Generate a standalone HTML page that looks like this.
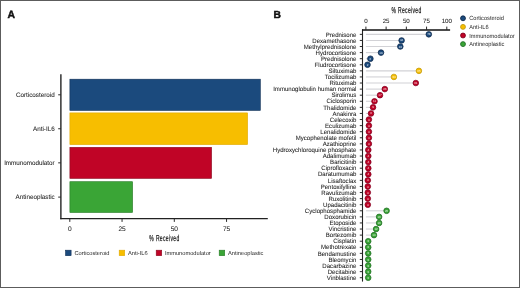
<!DOCTYPE html>
<html><head><meta charset="utf-8"><style>
svg text{stroke:#1c1c1c;stroke-width:0.06px;text-rendering:geometricPrecision;} svg text.n{stroke:none;} svg text.l{stroke:none;}
html,body{margin:0;padding:0;background:#fff;width:520px;height:288px;overflow:hidden;font-family:"Liberation Sans", sans-serif;}
</style></head><body>
<svg width="520" height="288" viewBox="0 0 520 288" style="display:block;will-change:transform">
<rect x="0" y="0" width="520" height="288" fill="#fff"/>
<rect x="0.5" y="0.5" width="519" height="287" fill="none" stroke="#5c5c5c" stroke-width="1"/>
<text x="7.6" y="18" font-family='"Liberation Sans", sans-serif' font-weight="bold" font-size="10.4" fill="#111" style="stroke:#111;stroke-width:0.45px">A</text>
<rect x="69.90" y="79.20" width="190.40" height="31.20" fill="#1b4a7d" stroke="#102f55" stroke-width="0.6"/>
<line x1="58.2" y1="94.80" x2="60.5" y2="94.80" stroke="#2a2a2a" stroke-width="1"/>
<text x="56.684" y="97.10" text-anchor="end" font-family='"Liberation Sans", sans-serif' font-size="6.5" fill="#1c1c1c" transform="scale(0.965 1)">Corticosteroid</text>
<rect x="69.90" y="112.90" width="177.70" height="31.70" fill="#f7be00" stroke="#e0a800" stroke-width="0.6"/>
<line x1="58.2" y1="128.75" x2="60.5" y2="128.75" stroke="#2a2a2a" stroke-width="1"/>
<text x="56.684" y="131.05" text-anchor="end" font-family='"Liberation Sans", sans-serif' font-size="6.5" fill="#1c1c1c" transform="scale(0.965 1)">Anti-IL6</text>
<rect x="69.90" y="147.30" width="141.70" height="31.10" fill="#c00426" stroke="#8a0a20" stroke-width="0.6"/>
<line x1="58.2" y1="162.85" x2="60.5" y2="162.85" stroke="#2a2a2a" stroke-width="1"/>
<text x="56.684" y="165.15" text-anchor="end" font-family='"Liberation Sans", sans-serif' font-size="6.5" fill="#1c1c1c" transform="scale(0.965 1)">Immunomodulator</text>
<rect x="69.90" y="181.70" width="62.70" height="30.80" fill="#3aa536" stroke="#267a26" stroke-width="0.6"/>
<line x1="58.2" y1="197.10" x2="60.5" y2="197.10" stroke="#2a2a2a" stroke-width="1"/>
<text x="56.684" y="199.40" text-anchor="end" font-family='"Liberation Sans", sans-serif' font-size="6.5" fill="#1c1c1c" transform="scale(0.965 1)">Antineoplastic</text>
<line x1="60.9" y1="74.2" x2="60.9" y2="219.2" stroke="#000" stroke-width="1.2"/>
<line x1="60.3" y1="218.7" x2="267.8" y2="218.7" stroke="#222" stroke-width="1.3"/>
<line x1="69.80" y1="218.5" x2="69.80" y2="221.9" stroke="#2a2a2a" stroke-width="1"/>
<text x="69.80" y="230.8" text-anchor="middle" font-family='"Liberation Sans", sans-serif' font-size="6.6" fill="#1c1c1c">0</text>
<line x1="122.05" y1="218.5" x2="122.05" y2="221.9" stroke="#2a2a2a" stroke-width="1"/>
<text x="122.05" y="230.8" text-anchor="middle" font-family='"Liberation Sans", sans-serif' font-size="6.6" fill="#1c1c1c">25</text>
<line x1="174.30" y1="218.5" x2="174.30" y2="221.9" stroke="#2a2a2a" stroke-width="1"/>
<text x="174.30" y="230.8" text-anchor="middle" font-family='"Liberation Sans", sans-serif' font-size="6.6" fill="#1c1c1c">50</text>
<line x1="226.55" y1="218.5" x2="226.55" y2="221.9" stroke="#2a2a2a" stroke-width="1"/>
<text x="226.55" y="230.8" text-anchor="middle" font-family='"Liberation Sans", sans-serif' font-size="6.6" fill="#1c1c1c">75</text>
<text x="164.55" y="241.3" text-anchor="middle" font-family='"Liberation Sans", sans-serif' font-size="8.6" letter-spacing="0.6" fill="#222" style="stroke-width:0.25px" transform="translate(164.3 0) scale(0.582 1) translate(-164.3 0)">% Received</text>
<rect x="65.60" y="250.2" width="5.5" height="5.5" fill="#1b4a7d" stroke="#102f55" stroke-width="0.6"/>
<text x="74.4" y="255.3" font-family='"Liberation Sans", sans-serif' font-size="5.7" fill="#262626" class="l">Corticosteroid</text>
<rect x="119.20" y="250.2" width="5.5" height="5.5" fill="#f7be00" stroke="#e0a800" stroke-width="0.6"/>
<text x="128.0" y="255.3" font-family='"Liberation Sans", sans-serif' font-size="5.7" fill="#262626" class="l">Anti-IL6</text>
<rect x="156.20" y="250.2" width="5.5" height="5.5" fill="#c00426" stroke="#8a0a20" stroke-width="0.6"/>
<text x="164.9" y="255.3" font-family='"Liberation Sans", sans-serif' font-size="5.7" fill="#262626" class="l">Immunomodulator</text>
<rect x="219.20" y="250.2" width="5.5" height="5.5" fill="#3aa536" stroke="#267a26" stroke-width="0.6"/>
<text x="228.0" y="255.3" font-family='"Liberation Sans", sans-serif' font-size="5.7" fill="#262626" class="l">Antineoplastic</text>
<text x="273.5" y="18.3" font-family='"Liberation Sans", sans-serif' font-weight="bold" font-size="10.3" fill="#111" style="stroke:#111;stroke-width:0.45px">B</text>
<line x1="359.8" y1="34.35" x2="362.5" y2="34.35" stroke="#2a2a2a" stroke-width="1"/>
<text x="367.423" y="36.55" text-anchor="end" font-family='"Liberation Sans", sans-serif' font-size="6.25" fill="#1c1c1c" transform="scale(0.97 1)">Prednisone</text>
<line x1="365.9" y1="34.35" x2="428.80" y2="34.35" stroke="#d2d2d6" stroke-width="1.1"/>
<line x1="359.8" y1="40.43" x2="362.5" y2="40.43" stroke="#2a2a2a" stroke-width="1"/>
<text x="367.423" y="42.63" text-anchor="end" font-family='"Liberation Sans", sans-serif' font-size="6.25" fill="#1c1c1c" transform="scale(0.97 1)">Dexamethasone</text>
<line x1="365.9" y1="40.43" x2="401.60" y2="40.43" stroke="#d2d2d6" stroke-width="1.1"/>
<line x1="359.8" y1="46.52" x2="362.5" y2="46.52" stroke="#2a2a2a" stroke-width="1"/>
<text x="367.423" y="48.72" text-anchor="end" font-family='"Liberation Sans", sans-serif' font-size="6.25" fill="#1c1c1c" transform="scale(0.97 1)">Methylprednisolone</text>
<line x1="365.9" y1="46.52" x2="400.30" y2="46.52" stroke="#d2d2d6" stroke-width="1.1"/>
<line x1="359.8" y1="52.60" x2="362.5" y2="52.60" stroke="#2a2a2a" stroke-width="1"/>
<text x="367.423" y="54.80" text-anchor="end" font-family='"Liberation Sans", sans-serif' font-size="6.25" fill="#1c1c1c" transform="scale(0.97 1)">Hydrocortisone</text>
<line x1="365.9" y1="52.60" x2="381.00" y2="52.60" stroke="#d2d2d6" stroke-width="1.1"/>
<line x1="359.8" y1="58.69" x2="362.5" y2="58.69" stroke="#2a2a2a" stroke-width="1"/>
<text x="367.423" y="60.89" text-anchor="end" font-family='"Liberation Sans", sans-serif' font-size="6.25" fill="#1c1c1c" transform="scale(0.97 1)">Prednisolone</text>
<line x1="365.9" y1="58.69" x2="370.40" y2="58.69" stroke="#d2d2d6" stroke-width="1.1"/>
<line x1="359.8" y1="64.77" x2="362.5" y2="64.77" stroke="#2a2a2a" stroke-width="1"/>
<text x="367.423" y="66.97" text-anchor="end" font-family='"Liberation Sans", sans-serif' font-size="6.25" fill="#1c1c1c" transform="scale(0.97 1)">Fludrocortisone</text>
<line x1="365.9" y1="64.77" x2="367.50" y2="64.77" stroke="#d2d2d6" stroke-width="1.1"/>
<line x1="359.8" y1="70.85" x2="362.5" y2="70.85" stroke="#2a2a2a" stroke-width="1"/>
<text x="367.423" y="73.05" text-anchor="end" font-family='"Liberation Sans", sans-serif' font-size="6.25" fill="#1c1c1c" transform="scale(0.97 1)">Siltuximab</text>
<line x1="365.9" y1="70.85" x2="418.90" y2="70.85" stroke="#d2d2d6" stroke-width="1.1"/>
<line x1="359.8" y1="76.94" x2="362.5" y2="76.94" stroke="#2a2a2a" stroke-width="1"/>
<text x="367.423" y="79.14" text-anchor="end" font-family='"Liberation Sans", sans-serif' font-size="6.25" fill="#1c1c1c" transform="scale(0.97 1)">Tocilizumab</text>
<line x1="365.9" y1="76.94" x2="393.90" y2="76.94" stroke="#d2d2d6" stroke-width="1.1"/>
<line x1="359.8" y1="83.02" x2="362.5" y2="83.02" stroke="#2a2a2a" stroke-width="1"/>
<text x="367.423" y="85.22" text-anchor="end" font-family='"Liberation Sans", sans-serif' font-size="6.25" fill="#1c1c1c" transform="scale(0.97 1)">Rituximab</text>
<line x1="365.9" y1="83.02" x2="415.80" y2="83.02" stroke="#d2d2d6" stroke-width="1.1"/>
<line x1="359.8" y1="89.11" x2="362.5" y2="89.11" stroke="#2a2a2a" stroke-width="1"/>
<text x="367.423" y="91.31" text-anchor="end" font-family='"Liberation Sans", sans-serif' font-size="6.25" fill="#1c1c1c" transform="scale(0.97 1)">Immunoglobulin human normal</text>
<line x1="365.9" y1="89.11" x2="384.80" y2="89.11" stroke="#d2d2d6" stroke-width="1.1"/>
<line x1="359.8" y1="95.19" x2="362.5" y2="95.19" stroke="#2a2a2a" stroke-width="1"/>
<text x="367.423" y="97.39" text-anchor="end" font-family='"Liberation Sans", sans-serif' font-size="6.25" fill="#1c1c1c" transform="scale(0.97 1)">Sirolimus</text>
<line x1="365.9" y1="95.19" x2="380.00" y2="95.19" stroke="#d2d2d6" stroke-width="1.1"/>
<line x1="359.8" y1="101.27" x2="362.5" y2="101.27" stroke="#2a2a2a" stroke-width="1"/>
<text x="367.423" y="103.47" text-anchor="end" font-family='"Liberation Sans", sans-serif' font-size="6.25" fill="#1c1c1c" transform="scale(0.97 1)">Ciclosporin</text>
<line x1="365.9" y1="101.27" x2="374.50" y2="101.27" stroke="#d2d2d6" stroke-width="1.1"/>
<line x1="359.8" y1="107.36" x2="362.5" y2="107.36" stroke="#2a2a2a" stroke-width="1"/>
<text x="367.423" y="109.56" text-anchor="end" font-family='"Liberation Sans", sans-serif' font-size="6.25" fill="#1c1c1c" transform="scale(0.97 1)">Thalidomide</text>
<line x1="365.9" y1="107.36" x2="373.00" y2="107.36" stroke="#d2d2d6" stroke-width="1.1"/>
<line x1="359.8" y1="113.44" x2="362.5" y2="113.44" stroke="#2a2a2a" stroke-width="1"/>
<text x="367.423" y="115.64" text-anchor="end" font-family='"Liberation Sans", sans-serif' font-size="6.25" fill="#1c1c1c" transform="scale(0.97 1)">Anakinra</text>
<line x1="365.9" y1="113.44" x2="371.00" y2="113.44" stroke="#d2d2d6" stroke-width="1.1"/>
<line x1="359.8" y1="119.53" x2="362.5" y2="119.53" stroke="#2a2a2a" stroke-width="1"/>
<text x="367.423" y="121.73" text-anchor="end" font-family='"Liberation Sans", sans-serif' font-size="6.25" fill="#1c1c1c" transform="scale(0.97 1)">Celecoxib</text>
<line x1="365.9" y1="119.53" x2="368.90" y2="119.53" stroke="#d2d2d6" stroke-width="1.1"/>
<line x1="359.8" y1="125.61" x2="362.5" y2="125.61" stroke="#2a2a2a" stroke-width="1"/>
<text x="367.423" y="127.81" text-anchor="end" font-family='"Liberation Sans", sans-serif' font-size="6.25" fill="#1c1c1c" transform="scale(0.97 1)">Eculizumab</text>
<line x1="365.9" y1="125.61" x2="368.90" y2="125.61" stroke="#d2d2d6" stroke-width="1.1"/>
<line x1="359.8" y1="131.69" x2="362.5" y2="131.69" stroke="#2a2a2a" stroke-width="1"/>
<text x="367.423" y="133.89" text-anchor="end" font-family='"Liberation Sans", sans-serif' font-size="6.25" fill="#1c1c1c" transform="scale(0.97 1)">Lenalidomide</text>
<line x1="365.9" y1="131.69" x2="368.90" y2="131.69" stroke="#d2d2d6" stroke-width="1.1"/>
<line x1="359.8" y1="137.78" x2="362.5" y2="137.78" stroke="#2a2a2a" stroke-width="1"/>
<text x="367.423" y="139.98" text-anchor="end" font-family='"Liberation Sans", sans-serif' font-size="6.25" fill="#1c1c1c" transform="scale(0.97 1)">Mycophenolate mofetil</text>
<line x1="365.9" y1="137.78" x2="368.90" y2="137.78" stroke="#d2d2d6" stroke-width="1.1"/>
<line x1="359.8" y1="143.86" x2="362.5" y2="143.86" stroke="#2a2a2a" stroke-width="1"/>
<text x="367.423" y="146.06" text-anchor="end" font-family='"Liberation Sans", sans-serif' font-size="6.25" fill="#1c1c1c" transform="scale(0.97 1)">Azathioprine</text>
<line x1="365.9" y1="143.86" x2="368.90" y2="143.86" stroke="#d2d2d6" stroke-width="1.1"/>
<line x1="359.8" y1="149.95" x2="362.5" y2="149.95" stroke="#2a2a2a" stroke-width="1"/>
<text x="367.423" y="152.15" text-anchor="end" font-family='"Liberation Sans", sans-serif' font-size="6.25" fill="#1c1c1c" transform="scale(0.97 1)">Hydroxychloroquine phosphate</text>
<line x1="365.9" y1="149.95" x2="368.30" y2="149.95" stroke="#d2d2d6" stroke-width="1.1"/>
<line x1="359.8" y1="156.03" x2="362.5" y2="156.03" stroke="#2a2a2a" stroke-width="1"/>
<text x="367.423" y="158.23" text-anchor="end" font-family='"Liberation Sans", sans-serif' font-size="6.25" fill="#1c1c1c" transform="scale(0.97 1)">Adalimumab</text>
<line x1="365.9" y1="156.03" x2="368.30" y2="156.03" stroke="#d2d2d6" stroke-width="1.1"/>
<line x1="359.8" y1="162.11" x2="362.5" y2="162.11" stroke="#2a2a2a" stroke-width="1"/>
<text x="367.423" y="164.31" text-anchor="end" font-family='"Liberation Sans", sans-serif' font-size="6.25" fill="#1c1c1c" transform="scale(0.97 1)">Baricitinib</text>
<line x1="365.9" y1="162.11" x2="368.30" y2="162.11" stroke="#d2d2d6" stroke-width="1.1"/>
<line x1="359.8" y1="168.20" x2="362.5" y2="168.20" stroke="#2a2a2a" stroke-width="1"/>
<text x="367.423" y="170.40" text-anchor="end" font-family='"Liberation Sans", sans-serif' font-size="6.25" fill="#1c1c1c" transform="scale(0.97 1)">Ciprofloxacin</text>
<line x1="365.9" y1="168.20" x2="368.30" y2="168.20" stroke="#d2d2d6" stroke-width="1.1"/>
<line x1="359.8" y1="174.28" x2="362.5" y2="174.28" stroke="#2a2a2a" stroke-width="1"/>
<text x="367.423" y="176.48" text-anchor="end" font-family='"Liberation Sans", sans-serif' font-size="6.25" fill="#1c1c1c" transform="scale(0.97 1)">Daratumumab</text>
<line x1="365.9" y1="174.28" x2="368.30" y2="174.28" stroke="#d2d2d6" stroke-width="1.1"/>
<line x1="359.8" y1="180.37" x2="362.5" y2="180.37" stroke="#2a2a2a" stroke-width="1"/>
<text x="367.423" y="182.57" text-anchor="end" font-family='"Liberation Sans", sans-serif' font-size="6.25" fill="#1c1c1c" transform="scale(0.97 1)">Lisaftoclax</text>
<line x1="365.9" y1="180.37" x2="367.80" y2="180.37" stroke="#d2d2d6" stroke-width="1.1"/>
<line x1="359.8" y1="186.45" x2="362.5" y2="186.45" stroke="#2a2a2a" stroke-width="1"/>
<text x="367.423" y="188.65" text-anchor="end" font-family='"Liberation Sans", sans-serif' font-size="6.25" fill="#1c1c1c" transform="scale(0.97 1)">Pentoxifylline</text>
<line x1="365.9" y1="186.45" x2="367.80" y2="186.45" stroke="#d2d2d6" stroke-width="1.1"/>
<line x1="359.8" y1="192.53" x2="362.5" y2="192.53" stroke="#2a2a2a" stroke-width="1"/>
<text x="367.423" y="194.73" text-anchor="end" font-family='"Liberation Sans", sans-serif' font-size="6.25" fill="#1c1c1c" transform="scale(0.97 1)">Ravulizumab</text>
<line x1="365.9" y1="192.53" x2="367.80" y2="192.53" stroke="#d2d2d6" stroke-width="1.1"/>
<line x1="359.8" y1="198.62" x2="362.5" y2="198.62" stroke="#2a2a2a" stroke-width="1"/>
<text x="367.423" y="200.82" text-anchor="end" font-family='"Liberation Sans", sans-serif' font-size="6.25" fill="#1c1c1c" transform="scale(0.97 1)">Ruxolitinib</text>
<line x1="365.9" y1="198.62" x2="367.80" y2="198.62" stroke="#d2d2d6" stroke-width="1.1"/>
<line x1="359.8" y1="204.70" x2="362.5" y2="204.70" stroke="#2a2a2a" stroke-width="1"/>
<text x="367.423" y="206.90" text-anchor="end" font-family='"Liberation Sans", sans-serif' font-size="6.25" fill="#1c1c1c" transform="scale(0.97 1)">Upadacitinib</text>
<line x1="365.9" y1="204.70" x2="367.80" y2="204.70" stroke="#d2d2d6" stroke-width="1.1"/>
<line x1="359.8" y1="210.79" x2="362.5" y2="210.79" stroke="#2a2a2a" stroke-width="1"/>
<text x="367.423" y="212.99" text-anchor="end" font-family='"Liberation Sans", sans-serif' font-size="6.25" fill="#1c1c1c" transform="scale(0.97 1)">Cyclophosphamide</text>
<line x1="365.9" y1="210.79" x2="386.60" y2="210.79" stroke="#d2d2d6" stroke-width="1.1"/>
<line x1="359.8" y1="216.87" x2="362.5" y2="216.87" stroke="#2a2a2a" stroke-width="1"/>
<text x="367.423" y="219.07" text-anchor="end" font-family='"Liberation Sans", sans-serif' font-size="6.25" fill="#1c1c1c" transform="scale(0.97 1)">Doxorubicin</text>
<line x1="365.9" y1="216.87" x2="379.10" y2="216.87" stroke="#d2d2d6" stroke-width="1.1"/>
<line x1="359.8" y1="222.95" x2="362.5" y2="222.95" stroke="#2a2a2a" stroke-width="1"/>
<text x="367.423" y="225.15" text-anchor="end" font-family='"Liberation Sans", sans-serif' font-size="6.25" fill="#1c1c1c" transform="scale(0.97 1)">Etoposide</text>
<line x1="365.9" y1="222.95" x2="379.10" y2="222.95" stroke="#d2d2d6" stroke-width="1.1"/>
<line x1="359.8" y1="229.04" x2="362.5" y2="229.04" stroke="#2a2a2a" stroke-width="1"/>
<text x="367.423" y="231.24" text-anchor="end" font-family='"Liberation Sans", sans-serif' font-size="6.25" fill="#1c1c1c" transform="scale(0.97 1)">Vincristine</text>
<line x1="365.9" y1="229.04" x2="376.10" y2="229.04" stroke="#d2d2d6" stroke-width="1.1"/>
<line x1="359.8" y1="235.12" x2="362.5" y2="235.12" stroke="#2a2a2a" stroke-width="1"/>
<text x="367.423" y="237.32" text-anchor="end" font-family='"Liberation Sans", sans-serif' font-size="6.25" fill="#1c1c1c" transform="scale(0.97 1)">Bortezomib</text>
<line x1="365.9" y1="235.12" x2="374.00" y2="235.12" stroke="#d2d2d6" stroke-width="1.1"/>
<line x1="359.8" y1="241.21" x2="362.5" y2="241.21" stroke="#2a2a2a" stroke-width="1"/>
<text x="367.423" y="243.41" text-anchor="end" font-family='"Liberation Sans", sans-serif' font-size="6.25" fill="#1c1c1c" transform="scale(0.97 1)">Cisplatin</text>
<line x1="365.9" y1="241.21" x2="368.20" y2="241.21" stroke="#d2d2d6" stroke-width="1.1"/>
<line x1="359.8" y1="247.29" x2="362.5" y2="247.29" stroke="#2a2a2a" stroke-width="1"/>
<text x="367.423" y="249.49" text-anchor="end" font-family='"Liberation Sans", sans-serif' font-size="6.25" fill="#1c1c1c" transform="scale(0.97 1)">Methotrexate</text>
<line x1="365.9" y1="247.29" x2="368.20" y2="247.29" stroke="#d2d2d6" stroke-width="1.1"/>
<line x1="359.8" y1="253.37" x2="362.5" y2="253.37" stroke="#2a2a2a" stroke-width="1"/>
<text x="367.423" y="255.57" text-anchor="end" font-family='"Liberation Sans", sans-serif' font-size="6.25" fill="#1c1c1c" transform="scale(0.97 1)">Bendamustine</text>
<line x1="365.9" y1="253.37" x2="368.20" y2="253.37" stroke="#d2d2d6" stroke-width="1.1"/>
<line x1="359.8" y1="259.46" x2="362.5" y2="259.46" stroke="#2a2a2a" stroke-width="1"/>
<text x="367.423" y="261.66" text-anchor="end" font-family='"Liberation Sans", sans-serif' font-size="6.25" fill="#1c1c1c" transform="scale(0.97 1)">Bleomycin</text>
<line x1="365.9" y1="259.46" x2="368.20" y2="259.46" stroke="#d2d2d6" stroke-width="1.1"/>
<line x1="359.8" y1="265.54" x2="362.5" y2="265.54" stroke="#2a2a2a" stroke-width="1"/>
<text x="367.423" y="267.74" text-anchor="end" font-family='"Liberation Sans", sans-serif' font-size="6.25" fill="#1c1c1c" transform="scale(0.97 1)">Dacarbazine</text>
<line x1="365.9" y1="265.54" x2="368.20" y2="265.54" stroke="#d2d2d6" stroke-width="1.1"/>
<line x1="359.8" y1="271.63" x2="362.5" y2="271.63" stroke="#2a2a2a" stroke-width="1"/>
<text x="367.423" y="273.83" text-anchor="end" font-family='"Liberation Sans", sans-serif' font-size="6.25" fill="#1c1c1c" transform="scale(0.97 1)">Decitabine</text>
<line x1="365.9" y1="271.63" x2="368.20" y2="271.63" stroke="#d2d2d6" stroke-width="1.1"/>
<line x1="359.8" y1="277.71" x2="362.5" y2="277.71" stroke="#2a2a2a" stroke-width="1"/>
<text x="367.423" y="279.91" text-anchor="end" font-family='"Liberation Sans", sans-serif' font-size="6.25" fill="#1c1c1c" transform="scale(0.97 1)">Vinblastine</text>
<line x1="365.9" y1="277.71" x2="368.20" y2="277.71" stroke="#d2d2d6" stroke-width="1.1"/>
<circle cx="428.80" cy="34.35" r="2.8" fill="#1b4a7d" stroke="#0e2748" stroke-width="0.75"/>
<text x="428.80" y="35.40" text-anchor="middle" font-family='"Liberation Sans", sans-serif' font-size="3.0" fill="#fff" fill-opacity="0.85" class="n">78</text>
<circle cx="401.60" cy="40.43" r="2.8" fill="#1b4a7d" stroke="#0e2748" stroke-width="0.75"/>
<text x="401.60" y="41.48" text-anchor="middle" font-family='"Liberation Sans", sans-serif' font-size="3.0" fill="#fff" fill-opacity="0.85" class="n">44</text>
<circle cx="400.30" cy="46.52" r="2.8" fill="#1b4a7d" stroke="#0e2748" stroke-width="0.75"/>
<text x="400.30" y="47.57" text-anchor="middle" font-family='"Liberation Sans", sans-serif' font-size="3.0" fill="#fff" fill-opacity="0.85" class="n">43</text>
<circle cx="381.00" cy="52.60" r="2.8" fill="#1b4a7d" stroke="#0e2748" stroke-width="0.75"/>
<text x="381.00" y="53.65" text-anchor="middle" font-family='"Liberation Sans", sans-serif' font-size="3.0" fill="#fff" fill-opacity="0.85" class="n">19</text>
<circle cx="370.40" cy="58.69" r="2.8" fill="#1b4a7d" stroke="#0e2748" stroke-width="0.75"/>
<text x="370.40" y="59.74" text-anchor="middle" font-family='"Liberation Sans", sans-serif' font-size="3.0" fill="#fff" fill-opacity="0.85" class="n">6</text>
<circle cx="367.50" cy="64.77" r="2.8" fill="#1b4a7d" stroke="#0e2748" stroke-width="0.75"/>
<text x="367.50" y="65.82" text-anchor="middle" font-family='"Liberation Sans", sans-serif' font-size="3.0" fill="#fff" fill-opacity="0.85" class="n">2</text>
<circle cx="418.90" cy="70.85" r="2.8" fill="#f7be00" stroke="#c09a10" stroke-width="0.75"/>
<text x="418.90" y="71.90" text-anchor="middle" font-family='"Liberation Sans", sans-serif' font-size="3.0" fill="#fff" fill-opacity="0.85" class="n">65</text>
<circle cx="393.90" cy="76.94" r="2.8" fill="#f7be00" stroke="#c09a10" stroke-width="0.75"/>
<text x="393.90" y="77.99" text-anchor="middle" font-family='"Liberation Sans", sans-serif' font-size="3.0" fill="#fff" fill-opacity="0.85" class="n">34</text>
<circle cx="415.80" cy="83.02" r="2.8" fill="#c00426" stroke="#800020" stroke-width="0.75"/>
<text x="415.80" y="84.07" text-anchor="middle" font-family='"Liberation Sans", sans-serif' font-size="3.0" fill="#fff" fill-opacity="0.85" class="n">61</text>
<circle cx="384.80" cy="89.11" r="2.8" fill="#c00426" stroke="#800020" stroke-width="0.75"/>
<text x="384.80" y="90.16" text-anchor="middle" font-family='"Liberation Sans", sans-serif' font-size="3.0" fill="#fff" fill-opacity="0.85" class="n">23</text>
<circle cx="380.00" cy="95.19" r="2.8" fill="#c00426" stroke="#800020" stroke-width="0.75"/>
<text x="380.00" y="96.24" text-anchor="middle" font-family='"Liberation Sans", sans-serif' font-size="3.0" fill="#fff" fill-opacity="0.85" class="n">17</text>
<circle cx="374.50" cy="101.27" r="2.8" fill="#c00426" stroke="#800020" stroke-width="0.75"/>
<text x="374.50" y="102.32" text-anchor="middle" font-family='"Liberation Sans", sans-serif' font-size="3.0" fill="#fff" fill-opacity="0.85" class="n">11</text>
<circle cx="373.00" cy="107.36" r="2.8" fill="#c00426" stroke="#800020" stroke-width="0.75"/>
<text x="373.00" y="108.41" text-anchor="middle" font-family='"Liberation Sans", sans-serif' font-size="3.0" fill="#fff" fill-opacity="0.85" class="n">9</text>
<circle cx="371.00" cy="113.44" r="2.8" fill="#c00426" stroke="#800020" stroke-width="0.75"/>
<text x="371.00" y="114.49" text-anchor="middle" font-family='"Liberation Sans", sans-serif' font-size="3.0" fill="#fff" fill-opacity="0.85" class="n">6</text>
<circle cx="368.90" cy="119.53" r="2.8" fill="#c00426" stroke="#800020" stroke-width="0.75"/>
<text x="368.90" y="120.58" text-anchor="middle" font-family='"Liberation Sans", sans-serif' font-size="3.0" fill="#fff" fill-opacity="0.85" class="n">4</text>
<circle cx="368.90" cy="125.61" r="2.8" fill="#c00426" stroke="#800020" stroke-width="0.75"/>
<text x="368.90" y="126.66" text-anchor="middle" font-family='"Liberation Sans", sans-serif' font-size="3.0" fill="#fff" fill-opacity="0.85" class="n">4</text>
<circle cx="368.90" cy="131.69" r="2.8" fill="#c00426" stroke="#800020" stroke-width="0.75"/>
<text x="368.90" y="132.74" text-anchor="middle" font-family='"Liberation Sans", sans-serif' font-size="3.0" fill="#fff" fill-opacity="0.85" class="n">4</text>
<circle cx="368.90" cy="137.78" r="2.8" fill="#c00426" stroke="#800020" stroke-width="0.75"/>
<text x="368.90" y="138.83" text-anchor="middle" font-family='"Liberation Sans", sans-serif' font-size="3.0" fill="#fff" fill-opacity="0.85" class="n">4</text>
<circle cx="368.90" cy="143.86" r="2.8" fill="#c00426" stroke="#800020" stroke-width="0.75"/>
<text x="368.90" y="144.91" text-anchor="middle" font-family='"Liberation Sans", sans-serif' font-size="3.0" fill="#fff" fill-opacity="0.85" class="n">4</text>
<circle cx="368.30" cy="149.95" r="2.8" fill="#c00426" stroke="#800020" stroke-width="0.75"/>
<text x="368.30" y="151.00" text-anchor="middle" font-family='"Liberation Sans", sans-serif' font-size="3.0" fill="#fff" fill-opacity="0.85" class="n">4</text>
<circle cx="368.30" cy="156.03" r="2.8" fill="#c00426" stroke="#800020" stroke-width="0.75"/>
<text x="368.30" y="157.08" text-anchor="middle" font-family='"Liberation Sans", sans-serif' font-size="3.0" fill="#fff" fill-opacity="0.85" class="n">4</text>
<circle cx="368.30" cy="162.11" r="2.8" fill="#c00426" stroke="#800020" stroke-width="0.75"/>
<text x="368.30" y="163.16" text-anchor="middle" font-family='"Liberation Sans", sans-serif' font-size="3.0" fill="#fff" fill-opacity="0.85" class="n">4</text>
<circle cx="368.30" cy="168.20" r="2.8" fill="#c00426" stroke="#800020" stroke-width="0.75"/>
<text x="368.30" y="169.25" text-anchor="middle" font-family='"Liberation Sans", sans-serif' font-size="3.0" fill="#fff" fill-opacity="0.85" class="n">4</text>
<circle cx="368.30" cy="174.28" r="2.8" fill="#c00426" stroke="#800020" stroke-width="0.75"/>
<text x="368.30" y="175.33" text-anchor="middle" font-family='"Liberation Sans", sans-serif' font-size="3.0" fill="#fff" fill-opacity="0.85" class="n">4</text>
<circle cx="367.80" cy="180.37" r="2.8" fill="#c00426" stroke="#800020" stroke-width="0.75"/>
<text x="367.80" y="181.42" text-anchor="middle" font-family='"Liberation Sans", sans-serif' font-size="3.0" fill="#fff" fill-opacity="0.85" class="n">4</text>
<circle cx="367.80" cy="186.45" r="2.8" fill="#c00426" stroke="#800020" stroke-width="0.75"/>
<text x="367.80" y="187.50" text-anchor="middle" font-family='"Liberation Sans", sans-serif' font-size="3.0" fill="#fff" fill-opacity="0.85" class="n">4</text>
<circle cx="367.80" cy="192.53" r="2.8" fill="#c00426" stroke="#800020" stroke-width="0.75"/>
<text x="367.80" y="193.58" text-anchor="middle" font-family='"Liberation Sans", sans-serif' font-size="3.0" fill="#fff" fill-opacity="0.85" class="n">4</text>
<circle cx="367.80" cy="198.62" r="2.8" fill="#c00426" stroke="#800020" stroke-width="0.75"/>
<text x="367.80" y="199.67" text-anchor="middle" font-family='"Liberation Sans", sans-serif' font-size="3.0" fill="#fff" fill-opacity="0.85" class="n">4</text>
<circle cx="367.80" cy="204.70" r="2.8" fill="#c00426" stroke="#800020" stroke-width="0.75"/>
<text x="367.80" y="205.75" text-anchor="middle" font-family='"Liberation Sans", sans-serif' font-size="3.0" fill="#fff" fill-opacity="0.85" class="n">4</text>
<circle cx="386.60" cy="210.79" r="2.8" fill="#3aa536" stroke="#1d6b22" stroke-width="0.75"/>
<text x="386.60" y="211.84" text-anchor="middle" font-family='"Liberation Sans", sans-serif' font-size="3.0" fill="#fff" fill-opacity="0.85" class="n">25</text>
<circle cx="379.10" cy="216.87" r="2.8" fill="#3aa536" stroke="#1d6b22" stroke-width="0.75"/>
<text x="379.10" y="217.92" text-anchor="middle" font-family='"Liberation Sans", sans-serif' font-size="3.0" fill="#fff" fill-opacity="0.85" class="n">16</text>
<circle cx="379.10" cy="222.95" r="2.8" fill="#3aa536" stroke="#1d6b22" stroke-width="0.75"/>
<text x="379.10" y="224.00" text-anchor="middle" font-family='"Liberation Sans", sans-serif' font-size="3.0" fill="#fff" fill-opacity="0.85" class="n">16</text>
<circle cx="376.10" cy="229.04" r="2.8" fill="#3aa536" stroke="#1d6b22" stroke-width="0.75"/>
<text x="376.10" y="230.09" text-anchor="middle" font-family='"Liberation Sans", sans-serif' font-size="3.0" fill="#fff" fill-opacity="0.85" class="n">12</text>
<circle cx="374.00" cy="235.12" r="2.8" fill="#3aa536" stroke="#1d6b22" stroke-width="0.75"/>
<text x="374.00" y="236.17" text-anchor="middle" font-family='"Liberation Sans", sans-serif' font-size="3.0" fill="#fff" fill-opacity="0.85" class="n">10</text>
<circle cx="368.20" cy="241.21" r="2.8" fill="#3aa536" stroke="#1d6b22" stroke-width="0.75"/>
<text x="368.20" y="242.26" text-anchor="middle" font-family='"Liberation Sans", sans-serif' font-size="3.0" fill="#fff" fill-opacity="0.85" class="n">3</text>
<circle cx="368.20" cy="247.29" r="2.8" fill="#3aa536" stroke="#1d6b22" stroke-width="0.75"/>
<text x="368.20" y="248.34" text-anchor="middle" font-family='"Liberation Sans", sans-serif' font-size="3.0" fill="#fff" fill-opacity="0.85" class="n">3</text>
<circle cx="368.20" cy="253.37" r="2.8" fill="#3aa536" stroke="#1d6b22" stroke-width="0.75"/>
<text x="368.20" y="254.42" text-anchor="middle" font-family='"Liberation Sans", sans-serif' font-size="3.0" fill="#fff" fill-opacity="0.85" class="n">3</text>
<circle cx="368.20" cy="259.46" r="2.8" fill="#3aa536" stroke="#1d6b22" stroke-width="0.75"/>
<text x="368.20" y="260.51" text-anchor="middle" font-family='"Liberation Sans", sans-serif' font-size="3.0" fill="#fff" fill-opacity="0.85" class="n">3</text>
<circle cx="368.20" cy="265.54" r="2.8" fill="#3aa536" stroke="#1d6b22" stroke-width="0.75"/>
<text x="368.20" y="266.59" text-anchor="middle" font-family='"Liberation Sans", sans-serif' font-size="3.0" fill="#fff" fill-opacity="0.85" class="n">3</text>
<circle cx="368.20" cy="271.63" r="2.8" fill="#3aa536" stroke="#1d6b22" stroke-width="0.75"/>
<text x="368.20" y="272.68" text-anchor="middle" font-family='"Liberation Sans", sans-serif' font-size="3.0" fill="#fff" fill-opacity="0.85" class="n">3</text>
<circle cx="368.20" cy="277.71" r="2.8" fill="#3aa536" stroke="#1d6b22" stroke-width="0.75"/>
<text x="368.20" y="278.76" text-anchor="middle" font-family='"Liberation Sans", sans-serif' font-size="3.0" fill="#fff" fill-opacity="0.85" class="n">3</text>
<line x1="362.5" y1="29.3" x2="362.5" y2="281.6" stroke="#222" stroke-width="1.1"/>
<line x1="362" y1="30.05" x2="450.1" y2="30.05" stroke="#111" stroke-width="1.4"/>
<line x1="365.90" y1="26.6" x2="365.90" y2="30" stroke="#2a2a2a" stroke-width="1"/>
<text x="365.90" y="22.95" text-anchor="middle" font-family='"Liberation Sans", sans-serif' font-size="6.2" fill="#1c1c1c">0</text>
<line x1="386.12" y1="26.6" x2="386.12" y2="30" stroke="#2a2a2a" stroke-width="1"/>
<text x="386.12" y="22.95" text-anchor="middle" font-family='"Liberation Sans", sans-serif' font-size="6.2" fill="#1c1c1c">25</text>
<line x1="406.35" y1="26.6" x2="406.35" y2="30" stroke="#2a2a2a" stroke-width="1"/>
<text x="406.35" y="22.95" text-anchor="middle" font-family='"Liberation Sans", sans-serif' font-size="6.2" fill="#1c1c1c">50</text>
<line x1="426.57" y1="26.6" x2="426.57" y2="30" stroke="#2a2a2a" stroke-width="1"/>
<text x="426.57" y="22.95" text-anchor="middle" font-family='"Liberation Sans", sans-serif' font-size="6.2" fill="#1c1c1c">75</text>
<line x1="446.80" y1="26.6" x2="446.80" y2="30" stroke="#2a2a2a" stroke-width="1"/>
<text x="446.80" y="22.95" text-anchor="middle" font-family='"Liberation Sans", sans-serif' font-size="6.2" fill="#1c1c1c">100</text>
<text x="406.65" y="13.4" text-anchor="middle" font-family='"Liberation Sans", sans-serif' font-size="8.6" letter-spacing="0.6" fill="#222" style="stroke-width:0.25px" transform="translate(406.4 0) scale(0.582 1) translate(-406.4 0)">% Received</text>
<circle cx="463.0" cy="18.30" r="2.45" fill="#1b4a7d" stroke="#0e2748" stroke-width="0.9"/>
<text x="499.149" y="20.40" font-family='"Liberation Sans", sans-serif' font-size="6.0" fill="#262626" class="l" transform="scale(0.94 1)">Corticosteroid</text>
<circle cx="463.0" cy="26.90" r="2.45" fill="#f7be00" stroke="#c09a10" stroke-width="0.9"/>
<text x="499.149" y="29.00" font-family='"Liberation Sans", sans-serif' font-size="6.0" fill="#262626" class="l" transform="scale(0.94 1)">Anti-IL6</text>
<circle cx="463.0" cy="35.50" r="2.45" fill="#c00426" stroke="#800020" stroke-width="0.9"/>
<text x="499.149" y="37.60" font-family='"Liberation Sans", sans-serif' font-size="6.0" fill="#262626" class="l" transform="scale(0.94 1)">Immunomodulator</text>
<circle cx="463.0" cy="44.10" r="2.45" fill="#3aa536" stroke="#1d6b22" stroke-width="0.9"/>
<text x="499.149" y="46.20" font-family='"Liberation Sans", sans-serif' font-size="6.0" fill="#262626" class="l" transform="scale(0.94 1)">Antineoplastic</text>
</svg>
</body></html>
